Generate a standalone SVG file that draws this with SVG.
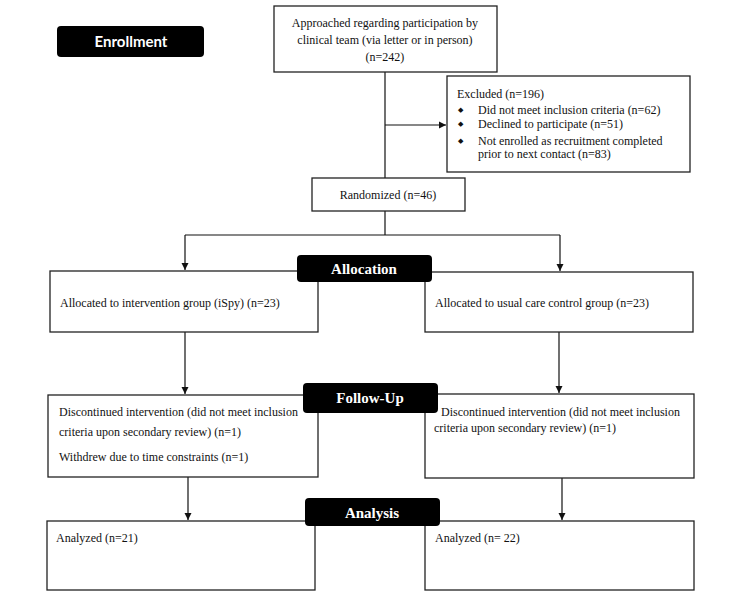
<svg xmlns="http://www.w3.org/2000/svg" width="733" height="596" viewBox="0 0 733 596">
<style>
.box{fill:#fff;stroke:#222;stroke-width:1.3}
.t{font-family:"Liberation Serif","Times New Roman",serif;font-size:12px;fill:#111}
.b{font-family:"DejaVu Sans",sans-serif;font-size:7px;fill:#111}
.lab{fill:#000}
.labt{font-family:"Liberation Serif","Times New Roman",serif;font-size:15px;font-weight:bold;fill:#fff;text-anchor:middle}
.line{stroke:#111;stroke-width:1.2;fill:none}
</style>
<defs>
<marker id="ah" markerWidth="8" markerHeight="8" refX="7" refY="4" orient="auto" markerUnits="userSpaceOnUse">
<path d="M0,0.5 L7,4 L0,7.5 z" fill="#111"/>
</marker>
</defs>
<rect width="733" height="596" fill="#fff"/>
<g id="connectors">
<line class="line" x1="385" y1="72" x2="385" y2="178"/>
<line class="line" x1="385" y1="125" x2="446" y2="125" marker-end="url(#ah)"/>
<line class="line" x1="385" y1="211" x2="385" y2="235"/>
<line class="line" x1="185" y1="235" x2="560" y2="235"/>
<line class="line" x1="185" y1="235" x2="185" y2="270" marker-end="url(#ah)"/>
<line class="line" x1="560" y1="235" x2="560" y2="271" marker-end="url(#ah)"/>
<line class="line" x1="185" y1="332" x2="185" y2="394" marker-end="url(#ah)"/>
<line class="line" x1="559" y1="332" x2="559" y2="393" marker-end="url(#ah)"/>
<line class="line" x1="188" y1="477" x2="188" y2="520" marker-end="url(#ah)"/>
<line class="line" x1="562" y1="478" x2="562" y2="520" marker-end="url(#ah)"/>
</g>
<g id="approached">
<rect class="box" x="274" y="6" width="223" height="66"/>
<text class="t" text-anchor="middle" x="385" y="27">Approached regarding participation by</text>
<text class="t" text-anchor="middle" x="385" y="44">clinical team (via letter or in person)</text>
<text class="t" text-anchor="middle" x="385" y="61">(n=242)</text>
</g>
<g id="excluded">
<rect class="box" x="447" y="76" width="243" height="96"/>
<text class="t" x="457" y="98">Excluded (n=196)</text>
<text class="b" x="458" y="112">◆</text><text class="t" x="478" y="114">Did not meet inclusion criteria (n=62)</text>
<text class="b" x="458" y="126">◆</text><text class="t" x="478" y="128">Declined to participate (n=51)</text>
<text class="b" x="458" y="143">◆</text><text class="t" x="478" y="145">Not enrolled as recruitment completed</text>
<text class="t" x="478" y="158">prior to next contact (n=83)</text>
</g>
<g id="randomized">
<rect class="box" x="312" y="178" width="153" height="33"/>
<text class="t" text-anchor="middle" x="388" y="199">Randomized (n=46)</text>
</g>
<g id="alloc-left">
<rect class="box" x="50" y="271" width="268" height="61"/>
<text class="t" x="60" y="307">Allocated to intervention group (iSpy) (n=23)</text>
</g>
<g id="alloc-right">
<rect class="box" x="425" y="272" width="268" height="60"/>
<text class="t" x="435" y="307">Allocated to usual care control group (n=23)</text>
</g>
<g id="fu-left">
<rect class="box" x="48" y="395" width="270" height="82"/>
<text class="t" x="59" y="416">Discontinued intervention (did not meet inclusion</text>
<text class="t" x="59" y="436">criteria upon secondary review) (n=1)</text>
<text class="t" x="59" y="461">Withdrew due to time constraints (n=1)</text>
</g>
<g id="fu-right">
<rect class="box" x="425" y="394" width="269" height="84"/>
<text class="t" x="441" y="416">Discontinued intervention (did not meet inclusion</text>
<text class="t" x="434" y="432">criteria upon secondary review) (n=1)</text>
</g>
<g id="an-left">
<rect class="box" x="47" y="521" width="268" height="69"/>
<text class="t" x="56" y="542">Analyzed (n=21)</text>
</g>
<g id="an-right">
<rect class="box" x="425" y="521" width="269" height="69"/>
<text class="t" x="435" y="542">Analyzed (n= 22)</text>
</g>
<g id="enrollment">
<rect class="lab" x="57" y="26" width="147" height="31" rx="4"/>
<text x="131" y="47" text-anchor="middle" font-family="Lato,'Open Sans',sans-serif" font-weight="bold" font-size="15" fill="#fff">Enrollment</text>
</g>
<g id="allocation">
<rect class="lab" x="297" y="255" width="135" height="27" rx="4"/>
<text class="labt" x="364" y="274">Allocation</text>
</g>
<g id="followup">
<rect class="lab" x="303" y="383" width="135" height="30" rx="4"/>
<text class="labt" x="370" y="403">Follow-Up</text>
</g>
<g id="analysis">
<rect class="lab" x="305" y="498" width="135" height="28" rx="4"/>
<text class="labt" x="372" y="518">Analysis</text>
</g>
</svg>
